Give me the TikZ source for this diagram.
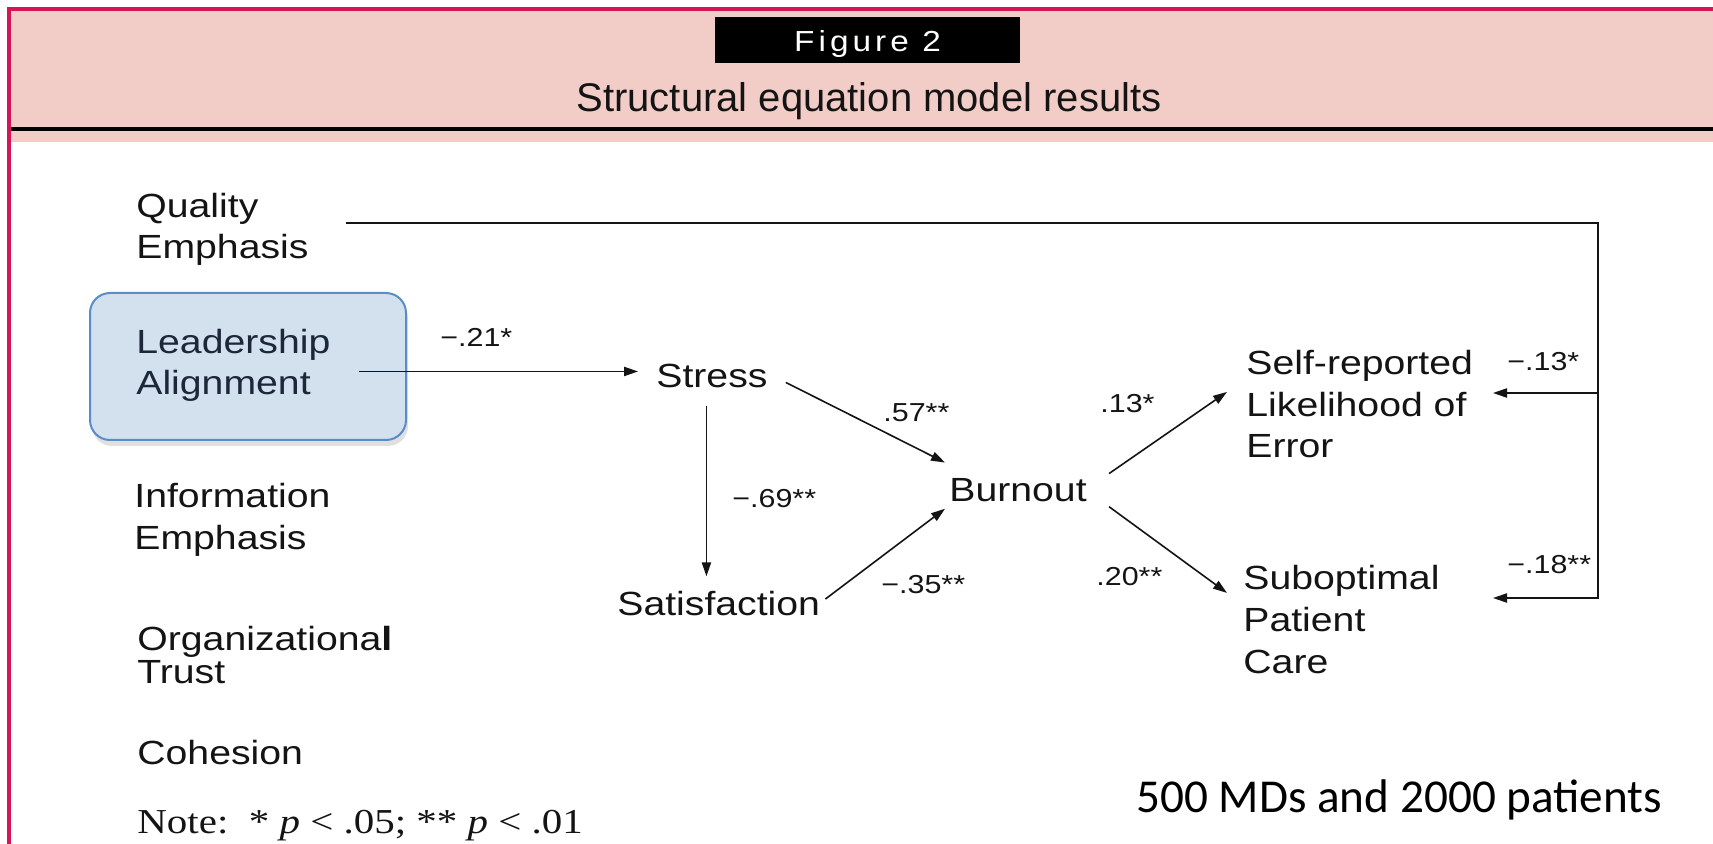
\documentclass[tikz,border=0pt]{standalone}
\usepackage{fontspec}
\setmainfont{Liberation Sans}
\newfontfamily\diagfont[FakeStretch=1.17]{Liberation Sans}
\newfontfamily\titlefont{Liberation Sans}
\newfontfamily\figfont[FakeStretch=1.15,LetterSpace=14]{Liberation Sans}
\newfontfamily\notefont[FakeStretch=1.17]{Liberation Serif}
\newfontfamily\calfont{Carlito}
\usetikzlibrary{arrows.meta,shadows}
\definecolor{framered}{RGB}{214,20,88}
\definecolor{headpink}{RGB}{242,205,199}
\definecolor{boxfill}{RGB}{211,224,238}
\definecolor{boxline}{RGB}{90,140,200}
\definecolor{ink}{RGB}{20,20,20}
\definecolor{navy}{RGB}{28,40,56}
\begin{document}
\begin{tikzpicture}[x=0.5pt,y=-0.5pt,
  lbl/.style={inner sep=0pt, anchor=base west, align=left, text=ink,
    font=\diagfont\fontsize{16.75pt}{20.85pt}\selectfont},
  coef/.style={inner sep=0pt, anchor=base west, text=ink,
    font=\diagfont\fontsize{13pt}{15pt}\selectfont},
  conn/.style={draw=ink, line width=0.8pt},
  arrow/.style={conn, -{Triangle[length=7pt,width=4.6pt]}},
]
\useasboundingbox (0,0) rectangle (1713,844);
\fill[white] (0,0) rectangle (1713,844);
% header band
\fill[headpink] (9,9) rectangle (1713,142);
\fill[black] (11,127) rectangle (1713,131);
\draw[framered, line width=2pt] (9,844) -- (9,9) -- (1713,9);
\node[fill=black, text=white, inner sep=0pt, minimum width=152.5pt, minimum height=23pt,
  text height=12pt, text depth=0pt, font=\figfont\fontsize{14.5pt}{16pt}\selectfont]
  (fig) at (867.5,40) {Figure 2};
\node[inner sep=0pt, anchor=base, text=ink, font=\titlefont\fontsize{20pt}{24pt}\selectfont]
  (title) at (869,112) {Structural equation model results};
% leadership box
\node[draw=boxline, fill=boxfill, line width=1pt, rounded corners=10pt,
  minimum width=158pt, minimum height=73.5pt, anchor=north west, inner sep=0pt,
  drop shadow={shadow xshift=1pt, shadow yshift=-3pt, fill=black, opacity=0.12}]
  (labox) at (89,292) {};
% text nodes (base = baseline of last line)
\node[lbl] (qe) at (136,259) {Quality\\Emphasis};
\node[lbl, text=navy] (latext) at (136,395) {Leadership\\Alignment};
\node[lbl] (ie) at (134,549) {Information\\Emphasis};
\node[lbl, font=\diagfont\fontsize{16.75pt}{16.5pt}\selectfont] (ot) at (137,683) {Organizationa\textbf{l}\\Trust};
\node[lbl] (coh) at (137,764) {Cohesion};
\node[inner sep=0pt, anchor=base west, text=ink, font=\notefont\fontsize{17.5pt}{20pt}\selectfont]
  (note) at (137,833) {Note:\ \ * \textit{p} < .05; ** \textit{p} < .01};
\node[lbl] (stress) at (656,388) {Stress};
\node[lbl] (sat) at (617,615) {Satisfaction};
\node[lbl] (burn) at (949,502) {Burnout};
\node[lbl] (self) at (1246,458) {Self-reported\\Likelihood of\\Error};
\node[lbl] (sub) at (1243,673) {Suboptimal\\Patient\\Care};
\node[inner sep=0pt, anchor=base west, text=black, font=\calfont\fontsize{23.6pt}{28pt}\selectfont]
  (mds) at (1136,812) {500 MDs and 2000 patients};
% coefficients
\node[coef] (c21) at (440,347) {−.21*};
\node[coef] (c57) at (883,422) {.57**};
\node[coef] (c69) at (732,508) {−.69**};
\node[coef] (c35) at (881,593) {−.35**};
\node[coef] (c13) at (1100,413) {.13*};
\node[coef] (c20) at (1096,585) {.20**};
\node[coef] (cm13) at (1507,371) {−.13*};
\node[coef] (cm18) at (1507,573) {−.18**};
% connectors
\draw[arrow] ([xshift=14pt,yshift=2.5pt]latext.east |- stress.west) -- ([xshift=-9pt,yshift=2.5pt]stress.west);
\draw[arrow] ([xshift=9pt,yshift=-3pt]stress.east) -- ([xshift=-2pt,yshift=8pt]burn.north west);
\draw[arrow] ([xshift=-2.75pt,yshift=-8.5pt]stress.south) -- ([xshift=-2.75pt,yshift=7pt]stress.south |- sat.north);
\draw[arrow] ([xshift=2.5pt,yshift=2pt]sat.east) -- ([xshift=-2pt,yshift=-3pt]burn.south west);
\draw[arrow] ([xshift=11pt,yshift=2.5pt]burn.north east) -- ([xshift=-9.5pt,yshift=-21pt]self.north west);
\draw[arrow] ([xshift=11pt,yshift=-2pt]burn.south east) -- ([xshift=-8pt,yshift=-14pt]sub.north west);
\coordinate (bus) at (1598,223);
\coordinate (selfin) at (1493,393);
\coordinate (subin) at (1493,598);
\draw[arrow] ([xshift=18.5pt]qe.east |- bus) -- (bus) -- (bus |- subin) -- (subin);
\draw[arrow] (bus |- selfin) -- (selfin);
\end{tikzpicture}
\end{document}
